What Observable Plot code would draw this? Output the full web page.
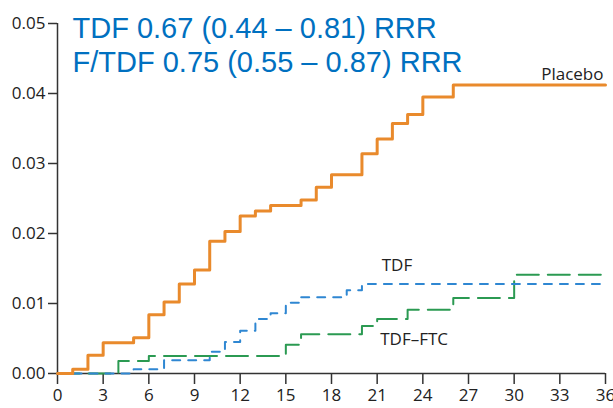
<!DOCTYPE html>
<html>
<head>
<meta charset="utf-8">
<script src="https://cdn.jsdelivr.net/npm/d3@7"></script>
<script src="https://cdn.jsdelivr.net/npm/@observablehq/plot@0.6"></script>
<style>
  html, body { margin: 0; padding: 0; background: #fff; }
  #chart { width: 613px; height: 408px; overflow: hidden; }
</style>
</head>
<body>
<div id="chart"></div>
<script>
// Cumulative incidence (step functions), months since randomisation
const placeboMonths = [0, 1, 2, 3, 5, 6, 7, 8, 9, 10, 11, 12, 13, 14, 16, 17, 18, 20, 21, 22, 23, 24, 26, 36];
const placeboRisk   = [0, 0.0006, 0.0026, 0.0044, 0.0051, 0.0084, 0.0102, 0.0128, 0.0148, 0.0189, 0.0203, 0.0225, 0.0232, 0.0240, 0.0248, 0.0266, 0.0284, 0.0314, 0.0335, 0.0357, 0.0370, 0.0395, 0.0412, 0.0412];

const tdfMonths = [0, 5, 7, 10, 11, 12, 13, 14, 15, 16, 19, 20, 36];
const tdfRisk   = [0, 0.0006, 0.0019, 0.0031, 0.0045, 0.0061, 0.0078, 0.0086, 0.0101, 0.0109, 0.0119, 0.0128, 0.0128];

const ftcMonths = [0, 4, 6, 15, 16, 20, 21, 23, 26, 30, 36];
const ftcRisk   = [0, 0.0018, 0.0025, 0.0041, 0.0056, 0.0068, 0.0078, 0.0091, 0.0108, 0.0141, 0.0141];

const xTicks = [0, 3, 6, 9, 12, 15, 18, 21, 24, 27, 30, 33, 36];
const yTicks = [0, 0.01, 0.02, 0.03, 0.04, 0.05];

const titleLines = ["TDF 0.67 (0.44 \u2013 0.81) RRR", "F/TDF 0.75 (0.55 \u2013 0.87) RRR"];

const seriesNames  = ["Placebo", "TDF", "TDF\u2013FTC"];
const labelMonths  = [36, 21.3, 21.2];
const labelRisk    = [0.0419, 0.0146, 0.0041];

const toRows = (ms, vs) => ms.map((m, i) => ({month: m, risk: vs[i]}));
const placebo = toRows(placeboMonths, placeboRisk);
const tdf = toRows(tdfMonths, tdfRisk);
const ftc = toRows(ftcMonths, ftcRisk);
const labels = seriesNames.map((s, i) => ({name: s, month: labelMonths[i], risk: labelRisk[i]}));

const axisColor = "#333";
const font = "'Open Sans', sans-serif";

const chart = Plot.plot({
  width: 613,
  height: 408,
  marginLeft: 57,
  marginRight: 8,
  marginTop: 23,
  marginBottom: 35,
  style: {fontFamily: font, fontSize: "17px", color: "#222", background: "#fff", overflow: "visible"},
  x: {domain: [0, 36], label: null},
  y: {domain: [0, 0.05], label: null},
  marks: [
    Plot.ruleX([0], {stroke: axisColor, strokeWidth: 1.5}),
    Plot.ruleY([0], {stroke: axisColor, strokeWidth: 1.5}),
    Plot.axisX({ticks: xTicks, tickSize: 11, tickPadding: 4, stroke: axisColor, strokeWidth: 1.5, fontSize: 17, tickFormat: d => d, label: null}),
    Plot.axisY({ticks: yTicks, tickSize: 9, tickPadding: 3, stroke: axisColor, strokeWidth: 1.5, fontSize: 17, tickFormat: d3.format(".2f"), label: null}),
    Plot.line(ftc, {x: "month", y: "risk", curve: "step-after", stroke: "#2b9a52", strokeWidth: 2, strokeDasharray: "22,9"}),
    Plot.line(tdf, {x: "month", y: "risk", curve: "step-after", stroke: "#2f87d2", strokeWidth: 2, strokeDasharray: "8,8"}),
    Plot.line(placebo, {x: "month", y: "risk", curve: "step-after", stroke: "#e98a2c", strokeWidth: 3}),
    Plot.text(labels.slice(0, 1), {x: "month", y: "risk", text: "name", textAnchor: "end",
      lineAnchor: "bottom", fontSize: 17, fill: "#222", dx: -2}),
    Plot.text(labels.slice(1), {x: "month", y: "risk", text: "name", textAnchor: "start",
      lineAnchor: "bottom", fontSize: 17, fill: "#222"}),
    Plot.text([titleLines[0]], {frameAnchor: "top-left", text: d => d, dx: 15, dy: 14, lineAnchor: "bottom",
      fontSize: 29, fontFamily: "'Liberation Sans', Arial, sans-serif", fill: "#0070c0", textAnchor: "start"}),
    Plot.text([titleLines[1]], {frameAnchor: "top-left", text: d => d, dx: 15, dy: 48, lineAnchor: "bottom",
      fontSize: 29, fontFamily: "'Liberation Sans', Arial, sans-serif", fill: "#0070c0", textAnchor: "start"})
  ]
});
document.getElementById("chart").appendChild(chart);
</script>
</body>
</html>
